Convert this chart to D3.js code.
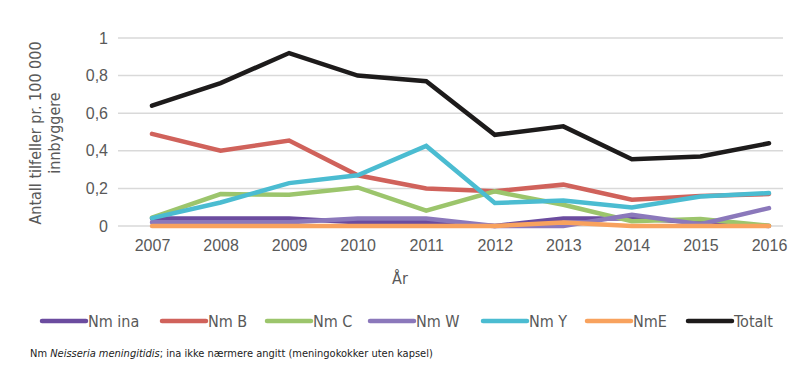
<!DOCTYPE html>
<html>
<head>
<meta charset="utf-8">
<script src="https://cdn.jsdelivr.net/npm/d3@7"></script>
<style>
    body { margin: 0; background: #fff; }
    svg { display: block; font-family: "Liberation Sans Narrow", "DejaVu Sans Condensed", "Roboto", sans-serif; }
</style>
</head>
<body>
<div id="chart"></div>
<script>
// Years on the x axis
const years = ['2007', '2008', '2009', '2010', '2011', '2012', '2013', '2014', '2015', '2016'];

// Cases per 100 000 inhabitants
const nmIna = [0.04, 0.04, 0.04, 0.02, 0.02, 0.0, 0.04, 0.04, 0.02, 0.0];
const nmB = [0.49, 0.40, 0.455, 0.27, 0.20, 0.185, 0.22, 0.14, 0.16, 0.17];
const nmC = [0.045, 0.17, 0.166, 0.205, 0.082, 0.184, 0.113, 0.025, 0.037, 0.002];
const nmW = [0.02, 0.02, 0.02, 0.04, 0.04, 0.0, 0.0, 0.06, 0.01, 0.095];
const nmY = [0.042, 0.125, 0.228, 0.27, 0.426, 0.122, 0.136, 0.099, 0.157, 0.175];
const nmE = [0.0, 0.0, 0.0, 0.0, 0.0, 0.0, 0.018, 0.0, 0.0, 0.0];
const totalt = [0.64, 0.76, 0.92, 0.80, 0.77, 0.485, 0.53, 0.355, 0.37, 0.44];

const yTicks = [0, 0.2, 0.4, 0.6, 0.8, 1];

const seriesNames = ['Nm ina', 'Nm B', 'Nm C', 'Nm W', 'Nm Y', 'NmE', 'Totalt'];
const seriesValues = [nmIna, nmB, nmC, nmW, nmY, nmE, totalt];
const seriesColors = ['#6b4c9f', '#d0625b', '#9cc56c', '#8b78bb', '#4bbcd1', '#f8a25e', '#1d1b1b'];

const width = 800;
const height = 376;

const svg = d3.select('#chart')
    .append('svg')
    .attr('width', width)
    .attr('height', height);

// Scales
const xScale = d3.scalePoint()
    .domain(years)
    .range([152, 769]);

const yScale = d3.scaleLinear()
    .domain([0, 1])
    .range([226, 38]);

const gridLeft = 118;
const gridRight = 783;

// Gridlines
svg.append('g')
    .attr('class', 'grid')
    .selectAll('line')
    .data(yTicks)
    .join('line')
    .attr('x1', gridLeft)
    .attr('x2', gridRight)
    .attr('y1', d => yScale(d))
    .attr('y2', d => yScale(d))
    .style('stroke', '#d9d9d9')
    .style('stroke-width', 1.5);

// Y axis labels
const yAxis = svg.append('g')
    .attr('transform', `translate(${gridLeft},0)`)
    .call(d3.axisLeft(yScale)
        .tickValues(yTicks)
        .tickSize(0)
        .tickPadding(10)
        .tickFormat(d => d3.format('.1~f')(d).replace('.', ',')));
yAxis.select('.domain').remove();
yAxis.selectAll('text')
    .style('font-size', '16px')
    .style('fill', '#595959');

// X axis labels
const xAxis = svg.append('g')
    .attr('transform', `translate(0,${yScale(0)})`)
    .call(d3.axisBottom(xScale).tickSize(0).tickPadding(14));
xAxis.select('.domain').remove();
xAxis.selectAll('text')
    .style('font-size', '16px')
    .style('fill', '#595959');

// Axis titles
svg.append('text')
    .attr('text-anchor', 'middle')
    .attr('x', 400)
    .attr('y', 284)
    .style('font-size', '16px')
    .style('fill', '#595959')
    .text('År');

const yTitle = svg.append('text')
    .attr('text-anchor', 'middle')
    .attr('transform', 'translate(41,133) rotate(-90)')
    .style('font-size', '16px')
    .style('fill', '#595959');
yTitle.append('tspan')
    .attr('x', 0)
    .attr('y', 0)
    .text('Antall tilfeller pr. 100 000');
yTitle.append('tspan')
    .attr('x', 0)
    .attr('y', 19)
    .text('innbyggere');

// Lines
const line = d3.line()
    .x((d, i) => xScale(years[i]))
    .y(d => yScale(d));

svg.append('g')
    .selectAll('path')
    .data(seriesValues)
    .join('path')
    .attr('d', line)
    .style('fill', 'none')
    .style('stroke', (d, i) => seriesColors[i])
    .style('stroke-width', 4.5)
    .style('stroke-linejoin', 'miter')
    .style('stroke-linecap', 'round');

// Legend
const legendX = [42, 162, 267, 370, 483, 587, 688];
const legend = svg.append('g')
    .selectAll('g')
    .data(seriesNames)
    .join('g')
    .attr('transform', (d, i) => `translate(${legendX[i]},321)`);

legend.append('line')
    .attr('x1', 0)
    .attr('x2', 44)
    .style('stroke', (d, i) => seriesColors[i])
    .style('stroke-width', 4.5)
    .style('stroke-linecap', 'round');

legend.append('text')
    .attr('x', 46)
    .attr('y', 6)
    .style('font-size', '16px')
    .style('fill', '#595959')
    .text(d => d);

// Footnote
const note = svg.append('text')
    .attr('x', 30)
    .attr('y', 357)
    .style('font-size', '11px')
    .style('fill', '#222');
note.append('tspan').text('Nm ');
note.append('tspan').style('font-style', 'italic').text('Neisseria meningitidis');
note.append('tspan').text('; ina ikke nærmere angitt (meningokokker uten kapsel)');
</script>
</body>
</html>
